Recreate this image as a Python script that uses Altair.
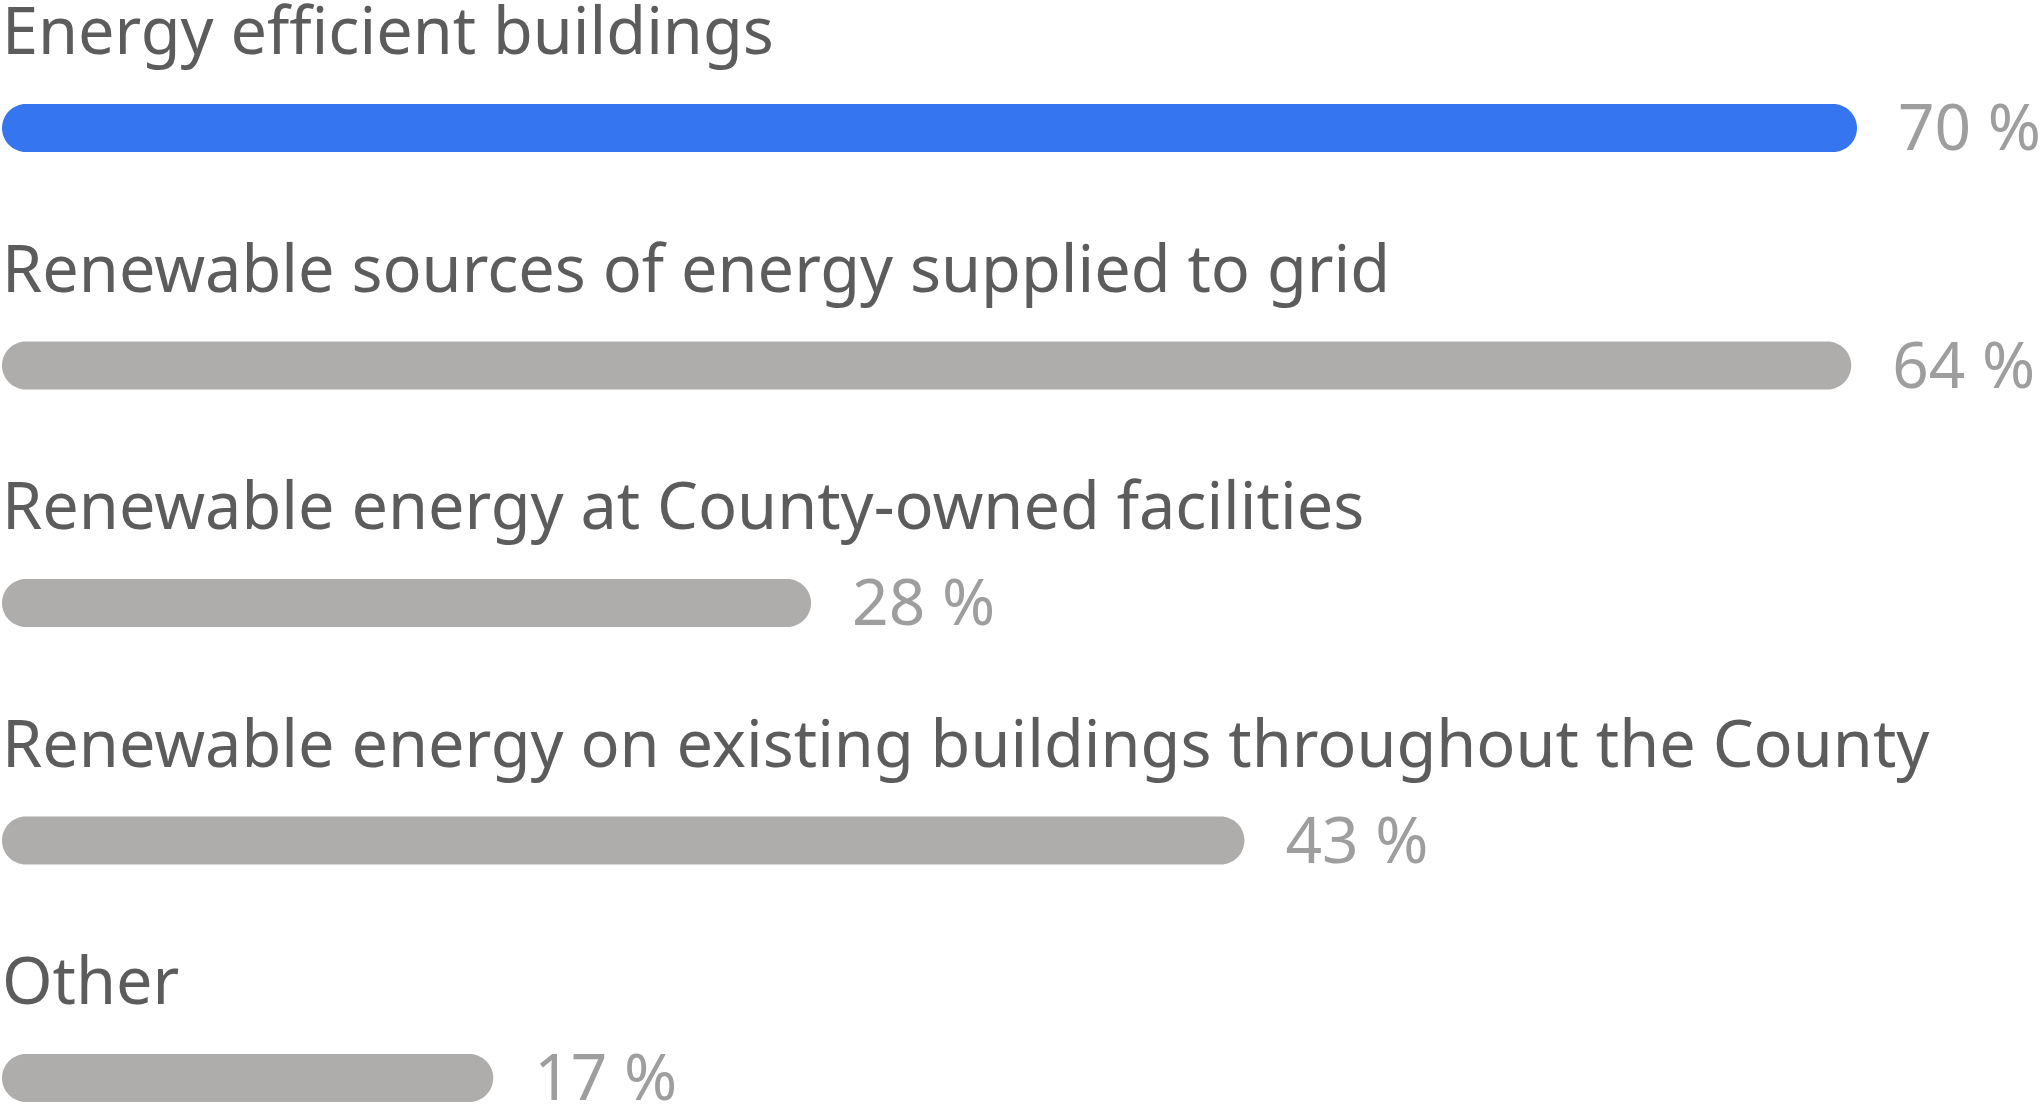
import altair as alt
import pandas as pd

categories = [
    "Energy efficient buildings",
    "Renewable sources of energy supplied to grid",
    "Renewable energy at County-owned facilities",
    "Renewable energy on existing buildings throughout the County",
    "Other",
]
values = [70, 64, 28, 43, 17]
highlight = [True, False, False, False, False]

df = pd.DataFrame({
    "category": categories,
    "value": values,
    "row": list(range(len(categories))),
    "highlight": highlight,
})
df["label"] = df["value"].astype(str) + " %"

FONT = "Noto Sans"

x_scale = alt.Scale(domain=[0, 64.2], range=[0, 1855], clamp=True, padding=0, nice=False, zero=True)
y_scale = alt.Scale(domain=[0, 4], range=[128, 1078], padding=0, nice=False)

base = alt.Chart(df)

bars = base.mark_bar(height=48, cornerRadius=24, orient="horizontal").encode(
    x=alt.X("value:Q", scale=x_scale, axis=None),
    x2=alt.datum(0),
    y=alt.Y("row:Q", scale=y_scale, axis=None),
    color=alt.Color(
        "highlight:N",
        scale=alt.Scale(domain=[True, False], range=["#3575ef", "#aeadab"]),
        legend=None,
    ),
)

cat_text = base.mark_text(
    align="left", baseline="alphabetic", dy=-74, fontSize=64.8, font=FONT, color="#5c5c5c"
).encode(
    x=alt.value(0),
    y=alt.Y("row:Q", scale=y_scale, axis=None),
    text="category:N",
)

pct_text = base.mark_text(
    align="left", baseline="alphabetic", dx=41, dy=22, fontSize=64, font=FONT, color="#9e9e9e"
).encode(
    x=alt.X("value:Q", scale=x_scale, axis=None),
    y=alt.Y("row:Q", scale=y_scale, axis=None),
    text="label:N",
)

chart = (
    alt.layer(bars, cat_text, pct_text)
    .properties(
        width=2038,
        height=1104,
        autosize=alt.AutoSizeParams(type="none"),
        padding={"left": 2, "right": 0, "top": 0, "bottom": 0},
    )
    .configure_view(stroke=None)
)

chart.save("out.html", embed_options={"renderer": "svg", "actions": False})
